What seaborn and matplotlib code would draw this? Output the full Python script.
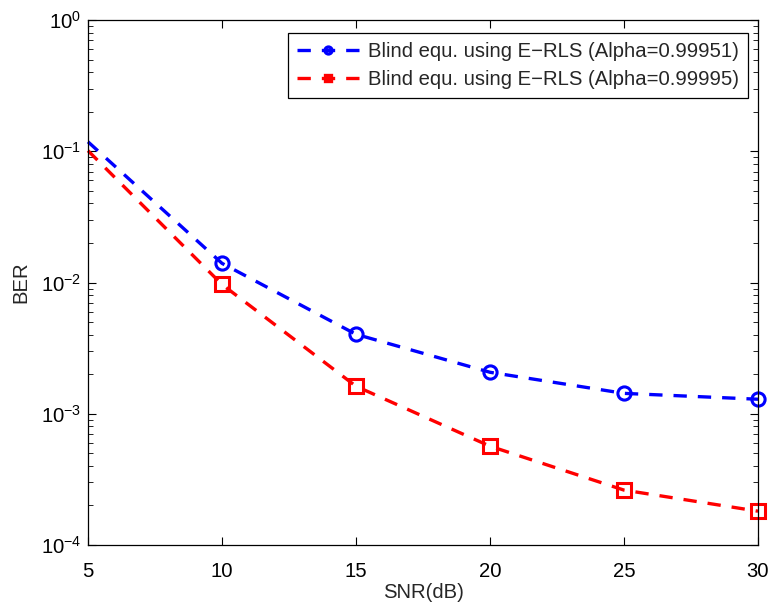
import matplotlib
matplotlib.use("Agg")
import matplotlib.pyplot as plt
import seaborn as sns
import pandas as pd
import numpy as np
from matplotlib.ticker import LogLocator, NullFormatter, FixedLocator

snr = [5, 10, 15, 20, 25, 30]
ber_a = [0.118, 0.0140, 0.00403, 0.00207, 0.00143, 0.00129]
ber_b = [0.101, 0.00966, 0.00162, 0.000566, 0.000262, 0.000181]
label_a = "Blind equ. using E\u2212RLS (Alpha=0.99951)"
label_b = "Blind equ. using E\u2212RLS (Alpha=0.99995)"

sns.set_style("ticks")
plt.rcParams['font.family'] = ['Liberation Sans', 'DejaVu Sans']
plt.rcParams['mathtext.fontset'] = 'custom'
plt.rcParams['mathtext.rm'] = 'Liberation Sans'

FS = 14.6
L, R, T, B = 88, 758, 20, 545
fig = plt.figure(figsize=(7.75, 6.11), dpi=100)
ax = fig.add_axes([L/775, 1-B/611, (R-L)/775, (B-T)/611])

df = pd.DataFrame({"snr": snr + snr, "ber": ber_a + ber_b,
                   "series": [label_a]*len(snr) + [label_b]*len(snr)})

DASH = (4.0, 3.3)
for lab, col, mk in [(label_a, "#0000ff", "o"), (label_b, "#ff0000", "s")]:
    sub = df[df.series == lab]
    sns.lineplot(data=sub, x="snr", y="ber", ax=ax, color=col, label=lab,
                 marker=mk, markevery=list(range(1, len(sub))), markersize=9.5,
                 markerfacecolor="none", markeredgecolor=col, markeredgewidth=2.2,
                 linewidth=2.4)

for line in ax.get_lines():
    line.set_dashes(DASH)
    line.set_clip_on(False)

ax.set_yscale("log")
ax.set_xlim(5, 30)
ax.set_ylim(1e-4, 1)
ax.xaxis.set_major_locator(FixedLocator([5, 10, 15, 20, 25, 30]))
ax.yaxis.set_major_locator(LogLocator(base=10, numticks=10))
ax.yaxis.set_minor_locator(LogLocator(base=10, subs=np.arange(2, 10), numticks=10))
ax.yaxis.set_minor_formatter(NullFormatter())
ax.tick_params(which="both", direction="in", top=True, right=True, labelsize=FS, colors="black")
ax.tick_params(which="major", length=6, width=0.8, pad=5)
ax.tick_params(which="minor", length=3.5, width=0.6)
ax.tick_params(axis="x", which="major", pad=12)
for s in ax.spines.values():
    s.set_visible(True)
    s.set_linewidth(0.9)
    s.set_color("black")

ax.set_xlabel("SNR(dB)", fontsize=FS, labelpad=2)
ax.set_ylabel("BER", fontsize=FS, labelpad=7)

leg = ax.legend(loc="upper right", bbox_to_anchor=((748-L)/(R-L), 1-(33-T)/(B-T)),
                fontsize=FS, frameon=True, fancybox=False,
                edgecolor="black", framealpha=1, handlelength=3.05, numpoints=1,
                borderaxespad=0, borderpad=0.45, labelspacing=0.45, handletextpad=0.45)
leg.get_frame().set_linewidth(0.9)
for h in leg.get_lines():
    h.set_markevery([1])
    h.set_markersize(5)
    h.set_markeredgewidth(2.4)
    h.set_dashes(DASH)

fig.savefig("out.png", dpi=100)
